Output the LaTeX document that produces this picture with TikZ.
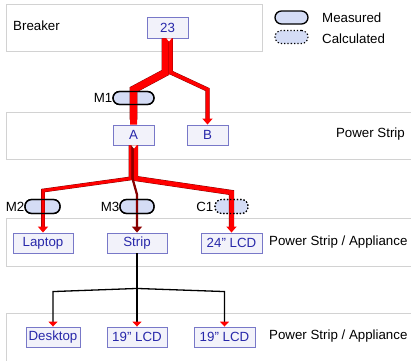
\documentclass[tikz,border=0pt]{standalone}
\usepackage{fontspec}
\setmainfont{Liberation Sans}
\usetikzlibrary{arrows.meta}
\definecolor{boxfill}{RGB}{242,242,250}
\definecolor{boxline}{RGB}{120,120,200}
\definecolor{boxtext}{RGB}{40,40,170}
\definecolor{pillfill}{RGB}{212,220,245}
\definecolor{layerline}{RGB}{210,210,210}
\definecolor{bandedge}{RGB}{120,0,0}

\begin{document}
\begin{tikzpicture}[x=1pt,y=-1pt,
                       font=\fontsize{13.3}{15}\selectfont,
                       layer/.style={draw=layerline,line width=1pt},
                       main node/.style={rectangle,fill=boxfill,draw=boxline,line width=0.9pt,
                                         text=boxtext,inner sep=0pt,minimum width=60pt,minimum height=20pt},
                       meter/.style={rectangle,rounded corners=6.5pt,fill=pillfill,draw=black,
                                     line width=1.3pt,inner sep=0pt,outer sep=0pt,
                                     minimum width=34pt,minimum height=14pt},
                       calc meter/.style={meter,dotted,line width=1.1pt},
                       ring/.style={draw=black,line width=1.3pt,rounded corners=6.5pt},
                       calc ring/.style={ring,dotted,line width=1.1pt},
                       band/.style={draw=red,line width=#1,
                                    preaction={draw=bandedge,line width=#1+0.8pt,-,shorten >=5pt}},
                       tip/.style={-{Triangle[width=10pt,length=6pt]}},
                       feed/.style={draw=black,line width=1.3pt,
                                    -{Triangle[width=9pt,length=5pt,red]}}
                           ]
   \useasboundingbox (0,0) rectangle (411,360);
   % layers
   \draw[layer] (6,4) rectangle (262,51);
   \draw[layer] (6,112) rectangle (414,159);
   \draw[layer] (6,218) rectangle (414,266);
   \draw[layer] (6,313) rectangle (414,366);
   \node[anchor=west,inner sep=0pt] (breaker) at (13,26) {Breaker};
   \node[anchor=east,inner sep=0pt] (strip layer) at (405,134) {Power Strip};
   \node[anchor=west,inner sep=0pt] (app layer) at (269,242) {Power Strip / Appliance};
   \node[anchor=west,inner sep=0pt] (dev layer) at (269,336) {Power Strip / Appliance};
   % devices
   \node[main node,minimum width=41pt,minimum height=21pt] (n23) at (167.5,27.5) {23};
   \node[main node,minimum width=41pt] (a) at (133.5,135) {A};
   \node[main node,minimum width=41pt] (b) at (207.5,135) {B};
   \node[main node] (laptop) at (43,243) {Laptop};
   \node[main node] (strip) at (137,243) {Strip};
   \node[main node,minimum width=61pt] (lcd) at (231.5,243) {24" LCD};
   \node[main node,minimum width=54pt] (desktop) at (53,337) {Desktop};
   \node[main node] (lcda) at (137,337) {19" LCD};
   \node[main node,minimum width=61pt] (lcdb) at (224.5,337) {19" LCD};
   % meters
   \node[meter,minimum width=41pt,minimum height=13pt] (m1) at (133.5,98) {};
   \node[meter,minimum width=35pt] (m2) at (42.5,206.5) {};
   \node[meter] (m3) at (137,206.5) {};
   \node[calc meter,minimum width=33pt] (c1) at (231.5,206.5) {};
   \node[anchor=east,inner sep=0.5pt] (m1 label) at (m1.west) {M1};
   \node[anchor=east,inner sep=0.5pt] (m2 label) at (m2.west) {M2};
   \node[anchor=east,inner sep=0.5pt] (m3 label) at (m3.west) {M3};
   \node[anchor=east,inner sep=1.5pt] (c1 label) at (c1.west) {C1};
   % flows
   \draw[band=7] ([xshift=-2pt]n23.south) -- ++(0,34) -- ([yshift=35pt]a.north) -- (a.north);
   \draw[band=3.5,tip] ([xshift=3.25pt]n23.south) -- ++(0,34) -- ([yshift=35pt]b.north) -- (b.north);
   \draw[band=3,tip] ([xshift=-3pt]a.south) -- ++(0,33) -- ([yshift=42pt]laptop.north) -- (laptop.north);
   \draw[band=4.5,tip] ([xshift=2pt]a.south) -- ++(0,33) -- ([yshift=40pt]lcd.north) -- (lcd.north);
   \draw[band=1.4,tip,draw=red!55!black] ([xshift=-1pt]a.south) -- ++(0,33) -- ([yshift=38pt]strip.north) -- (strip.north);
   \fill[white] ([xshift=-1pt]n23.south) -- ([xshift=4pt]n23.south) -- ([xshift=1.5pt,yshift=-3pt]n23.south) -- cycle;
   \fill[white] ([xshift=-2pt]a.south) -- ([xshift=3pt]a.south) -- ([xshift=0.5pt,yshift=-3pt]a.south) -- cycle;
   \draw[ring] (m1.south west) rectangle (m1.north east);
   \draw[ring] (m2.south west) rectangle (m2.north east);
   \draw[ring] (m3.south west) rectangle (m3.north east);
   \draw[calc ring] (c1.south west) rectangle (c1.north east);
   \draw[feed] (strip.south) -- ++(0,35) -- ([yshift=35pt]desktop.north) -- (desktop.north);
   \draw[feed] (strip.south) -- (lcda.north);
   \draw[feed] (strip.south) -- ++(0,35) -- ([yshift=35pt]lcdb.north) -- (lcdb.north);
   % legend
   \node[meter,minimum width=33pt,minimum height=13pt] (measured) at (291.5,17.5) {};
   \node[calc meter,minimum width=33pt,minimum height=13pt] (calculated) at (291.5,37) {};
   \node[anchor=west,inner sep=0pt] (measured label) at (322,18) {Measured};
   \node[anchor=west,inner sep=0pt] (calculated label) at (322,39) {Calculated};
\end{tikzpicture}
\end{document}
